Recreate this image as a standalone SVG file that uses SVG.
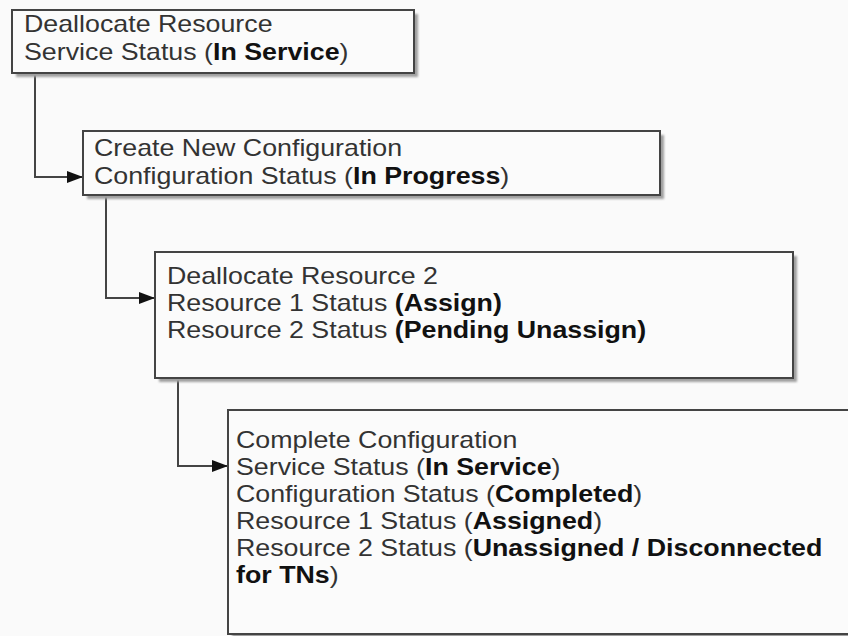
<svg xmlns="http://www.w3.org/2000/svg" width="848" height="636" viewBox="0 0 848 636">
<defs>
<filter id="sh" x="-5%" y="-5%" width="110%" height="120%"><feGaussianBlur stdDeviation="1.3"/></filter>
<marker id="arr" markerWidth="16" markerHeight="12" refX="16" refY="6" orient="auto" markerUnits="userSpaceOnUse"><path d="M0,0 L16,6 L0,12 Z" fill="#111"/></marker>
</defs>
<style>
.bg{fill:#fafafa}
.shadow{fill:#a0a0a0;filter:url(#sh)}
.box{fill:#fbfbfb;stroke:#444;stroke-width:2}
.t{font-family:"Liberation Sans",Arial,sans-serif;font-size:23px;fill:#333}
.b{font-weight:bold;fill:#111}
.conn{fill:none;stroke:#444;stroke-width:2}
</style>
<rect class="bg" x="0" y="0" width="848" height="636"/>
<g id="connectors">
<path class="conn" d="M35,73 V177 H83" marker-end="url(#arr)"/>
<path class="conn" d="M106,195 V298 H155" marker-end="url(#arr)"/>
<path class="conn" d="M178,378 V466 H228" marker-end="url(#arr)"/>
</g>
<g id="node1">
<rect class="shadow" x="16" y="14" width="402" height="63"/>
<rect class="box" x="12" y="10" width="402" height="63"/>
<text class="t" transform="translate(24,32) scale(1.165,1)">Deallocate Resource</text>
<text class="t" transform="translate(24,60) scale(1.165,1)">Service Status (<tspan class="b">In Service</tspan>)</text>
</g>
<g id="node2">
<rect class="shadow" x="87" y="135" width="577" height="64"/>
<rect class="box" x="83" y="131" width="577" height="64"/>
<text class="t" transform="translate(94,156) scale(1.165,1)">Create New Configuration</text>
<text class="t" transform="translate(94,184) scale(1.165,1)">Configuration Status (<tspan class="b">In Progress</tspan>)</text>
</g>
<g id="node3">
<rect class="shadow" x="159" y="256" width="638" height="126"/>
<rect class="box" x="155" y="252" width="638" height="126"/>
<text class="t" transform="translate(167,284) scale(1.165,1)">Deallocate Resource 2</text>
<text class="t" transform="translate(167,311) scale(1.165,1)">Resource 1 Status <tspan class="b">(Assign)</tspan></text>
<text class="t" transform="translate(167,338) scale(1.165,1)">Resource 2 Status <tspan class="b">(Pending Unassign)</tspan></text>
</g>
<g id="node4">
<rect class="shadow" x="232" y="414" width="640" height="230"/>
<rect class="box" x="228" y="410" width="640" height="224"/>
<text class="t" transform="translate(236,448) scale(1.165,1)">Complete Configuration</text>
<text class="t" transform="translate(236,475) scale(1.165,1)">Service Status (<tspan class="b">In Service</tspan>)</text>
<text class="t" transform="translate(236,502) scale(1.165,1)">Configuration Status (<tspan class="b">Completed</tspan>)</text>
<text class="t" transform="translate(236,529) scale(1.165,1)">Resource 1 Status (<tspan class="b">Assigned</tspan>)</text>
<text class="t" transform="translate(236,556) scale(1.165,1)">Resource 2 Status (<tspan class="b">Unassigned / Disconnected</tspan></text>
<text class="t" transform="translate(236,583) scale(1.165,1)"><tspan class="b">for TNs</tspan>)</text>
</g>
</svg>
